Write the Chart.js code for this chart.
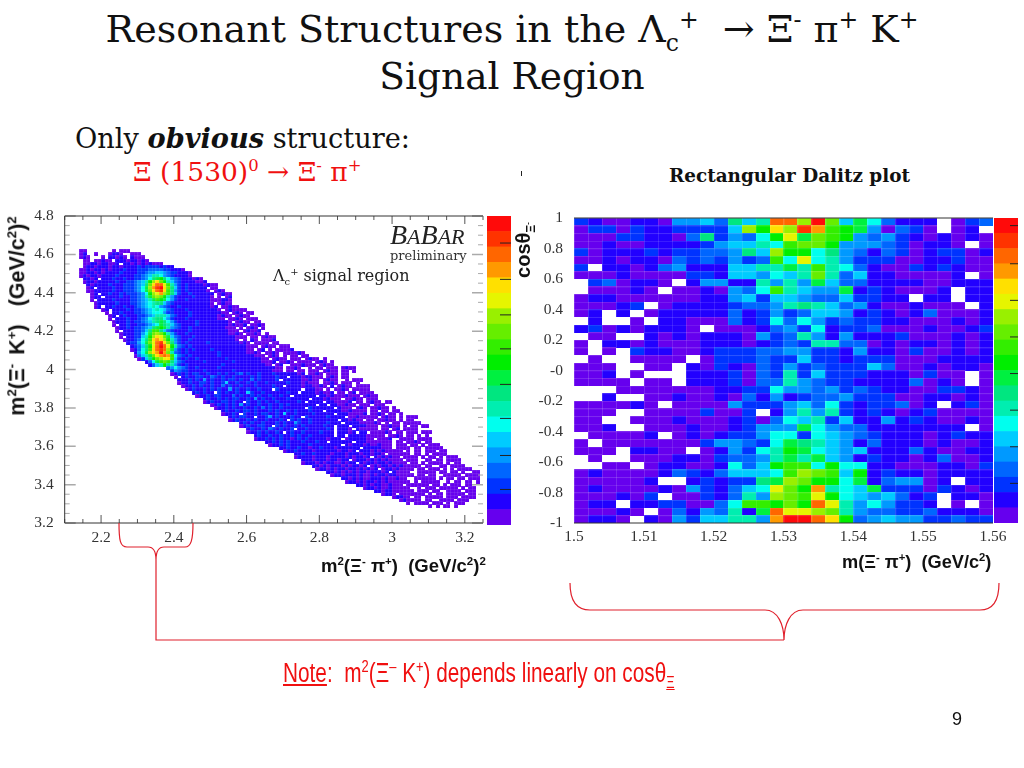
<!DOCTYPE html>
<html>
<head>
<meta charset="utf-8">
<title>Resonant Structures</title>
<script src="https://cdn.jsdelivr.net/npm/chart.js@4"></script>
<style>
html, body { margin: 0; padding: 0; background: #fff; }
body { width: 1024px; height: 768px; position: relative; overflow: hidden; }
canvas { position: absolute; }
.t { position: absolute; white-space: nowrap; line-height: 1; }
.t sup, .t sub { font-size: 62%; line-height: 0; }
.serif { font-family: "DejaVu Serif", serif; }
.sans { font-family: "Liberation Sans", sans-serif; font-weight: bold; color: #111; }
svg { position: absolute; left: 0; top: 0; }
</style>
</head>
<body>
<div class="t serif" style="left:0;width:1024px;text-align:center;top:10px;font-size:38px;color:#111">Resonant Structures in the Λ<sub>c</sub><sup>+</sup>&nbsp; → Ξ<sup>-</sup> π<sup>+</sup> K<sup>+</sup></div>
<div class="t serif" style="left:0;width:1024px;text-align:center;top:58px;font-size:37.5px;color:#111">Signal Region</div>
<div class="t serif" style="left:75px;top:125px;font-size:27.2px;color:#111">Only <b><i>obvious</i></b> structure:</div>
<div class="t serif" style="left:133px;top:159px;font-size:26.5px;color:#f01010">Ξ (1530)<sup>0</sup> → Ξ<sup>-</sup> π<sup>+</sup></div>
<div class="t serif" style="left:669px;top:167px;font-size:18.4px;font-weight:bold;color:#111">Rectangular Dalitz plot</div>
<div class="t" style="left:521px;top:171px;width:1px;height:5px;background:#222"></div>

<canvas id="chartLeft" style="left:0;top:200px"></canvas>
<canvas id="barLeft" style="left:487px;top:216px"></canvas>
<canvas id="chartRight" style="left:530px;top:200px"></canvas>
<canvas id="barRight" style="left:994px;top:218px"></canvas>

<div class="t" style="left:390px;top:219px;font:italic 28px 'Liberation Serif',serif;color:#222">B<span style="font-size:22px">A</span>B<span style="font-size:22px">AR</span></div>
<div class="t" style="left:390px;top:248px;font:13px 'DejaVu Serif',serif;color:#333">preliminary</div>
<div class="t" style="left:273px;top:266px;font:16px 'DejaVu Serif',serif;color:#222">Λ<sub>c</sub><sup>+</sup> signal region</div>

<div class="t sans" style="left:18px;top:316px;font-size:21.5px;word-spacing:3px;transform:translate(-50%,-50%) rotate(-90deg)">m<sup>2</sup>(Ξ<sup>-</sup> K<sup>+</sup>)&nbsp; (GeV/c<sup>2</sup>)<sup>2</sup></div>
<div class="t sans" style="left:321px;top:557px;font-size:18.5px">m<sup>2</sup>(Ξ<sup>-</sup> π<sup>+</sup>)&nbsp; (GeV/c<sup>2</sup>)<sup>2</sup></div>
<div class="t sans" style="left:523px;top:250px;font-size:20px;transform:translate(-50%,-50%) rotate(-90deg)">cosθ<sub>Ξ<sup>-</sup></sub></div>
<div class="t sans" style="left:842px;top:553px;font-size:18.2px">m(Ξ<sup>-</sup> π<sup>+</sup>)&nbsp; (GeV/c<sup>2</sup>)</div>

<svg width="1024" height="768" fill="none" stroke="#e0202c" stroke-width="1.2">
<path d="M119,523 C119,540 120,547 127,547 L148,547 C153,547 156,551 156,560 C156,551 159,547 164,547 L185,547 C191,547 193,540 193,523"/>
<path d="M156,560 L156,640 L784,640"/>
<path d="M570,583 C570,600 576,610 590,610 L765,610 C778,610 784,625 784,640 C784,625 790,610 803,610 L980,610 C994,610 999,600 999,583"/>
</svg>
<div class="t" style="left:283px;top:658px;font:27px 'Liberation Sans',sans-serif;color:#f01010;transform:scaleX(.77);transform-origin:0 0"><u>Note</u>:&nbsp; m<sup>2</sup>(Ξ<sup>–</sup> K<sup>+</sup>) depends linearly on cosθ<sub><u>Ξ</u></sub></div>
<div class="t" style="left:952px;top:709px;font:18px 'Liberation Sans',sans-serif;color:#111">9</div>

<script>
// Colour levels of the z scale, bottom to top
const levelColors = ["#6600ee", "#2200ff", "#0033ff", "#0066ff", "#0099ff", "#00ccff", "#00ffee", "#00eeb0", "#00e680", "#00f040",
    "#00ee00", "#33ee00", "#66ee00", "#99f000", "#e6f500", "#ffe000", "#ff9900", "#ff6600", "#ff3300", "#ff0a0a"];
const levelChars = "0123456789abcdefghij";

// Left plot: m2(Xi- K+) vs m2(Xi- pi+)
const leftXRange = [2.1, 3.25], leftXBin = 0.01;
const leftYRange = [3.2, 4.8], leftYBin = 0.016;
const leftXTicks = [2.2, 2.4, 2.6, 2.8, 3, 3.2];
const leftYTicks = [3.2, 3.4, 3.6, 3.8, 4, 4.2, 4.4, 4.6, 4.8];

// rows 11 to 50, all starting at column 3, "." is an empty bin
const leftRowsTop = [
    ".00.......0.000",
    ".01..0...0110..000",
    ".010...0.11010.1000",
    "..00.00100.111011010.",
    "..0011011001.11010101000",
    "..0110111011011112122221211",
    ".00101101011121112223333221110.",
    ".0011010111121111223445543221110",
    ".0101101111211112234577643211110",
    "..1101.1112112112234689a86432111010",
    "..011011111211223457adfca75321111001",
    "...10111121112223458cfhheb7421211110100",
    "...01.11112112223469dgijfc8521211111.00",
    "...00111112112223469cfhifb84212111110.010",
    "....01.1121121222346adegdb852112111111.0100",
    "....011.1111211223479cdca7421111211110.0.01",
    "....0.1111211112234579ba9642112111111000110.",
    ".....011111211122345678853211111111110.0100",
    ".....01.1121121123456764321121111111101.00100",
    ".......01.111121223456765321112111111110.010000",
    "........0.11211122345666422111121111111100.010.00",
    ".........01.1211122345777532111211111110100.0100",
    ".........0.111211234678864211121111111100.0010.000",
    "..........011121223457898642111112111111110.0100.00",
    "..........0.11211223456987532111121111111101001.0010",
    "...........011212234589a97432112111111111000.0.010.0",
    "...........0.11122358bb8532111121111111111000.01001.",
    "............011122469cdca742112111111111110010.0010.0",
    "............0.112257adfec9532111211111111111000.00.0100",
    ".............0112368bfgfda7421121111111111110.0.10.0001",
    "..............122469cehifc8421211111211111111010.0000.00",
    "...............12358aehjhea73212111111111111111000.0100.000",
    "...............01368bfhihd94212121111211111111100.01.0.00001",
    "................1469dfgjgc7321211111111211111110010.0010.000010.",
    "................03579cfghgb6321211111112111111111000.010.0.00.00.",
    ".................0258acdefb52121121111111211111111100.0100.000.0100.0",
    "...................1369bcb85321111121111111211111110001.0010.0000.010.0",
    "....................1357a87421211111111121111111111100.01..0001000.0100.",
    ".........................34643211211111211111111111111100.0010..0.00.000.0100",
    "..........................2432211112111111121111111111000.00.00.000.0100.00.0"
];
const leftTopFirstRow = 11, leftTopFirstCol = 3;

// rows 51 to 94, each with its own first column
const leftStarts = [29, 30, 30, 31, 31, 33, 34, 36, 37, 38, 39, 41, 42, 43, 44, 45, 47, 48, 49, 50, 51, 52, 54, 56, 58, 60, 62, 63, 64, 65, 67, 69, 71, 73, 75, 77, 79, 82, 84, 87, 90, 92, 94, 100];
const leftRowsBottom = [
    "0121212211211212112312112111211111101.0010.000.00",
    "0.12112211321211211112121111211.111011000.010.00.",
    ".1112121412112122121131211112.1111100100.0100..0.000",
    "011211221211251121121211211111211101000.0010.000.0",
    ".0112121121131211211121111211.11110110010.1.0100.0000",
    "012112121211412112112111.2111111.11100.0.0010.00000.",
    ".121211.2121121152112111111211.111101001.00.01.0000",
    "01121221113121121211211211.111111.11010001000.0100.",
    ".12112121221121412112111211111.11101000.00100.000",
    "01211221211.2112121121111121.1111.1100001.00.0100.00",
    ".01212121412112112112121111111.11.1100100.000.000",
    "0112121121121312112111111.2111111.1000.010.00100.0",
    ".1211212212111212112121112111.11110010000.00.00.00",
    "01121.2112122112151121111211111.11100001.0010.00.0.",
    ".1212211.112412111211.21111121111.00100000.0100.0.000",
    "0121121211211121.2121121111111.110100.00.00100.0.00",
    ".1212112111212114211211112111.1111000010.0.00.00000",
    "012112211.2121121211111211.111.1111000.00100.0.00.00",
    ".1211213212112.1121111121.1110.100000.00.01.0000",
    "0112121121.1211211112111.11101.11.000010.00.000.000",
    ".1211211211212112111111.11.1111100000.0010.00.0.0",
    "011212121101212111110111.01111100.0001..0000.0000",
    ".11212121112111211.111111.1110000000.00.0010.00",
    "01121211111211111111.1011101001000.000.00.0.000",
    ".1121121101121110111111.11111000.0000.00.00000.",
    "01121111011111101101.111010100000.0.00.000.00",
    ".1121121111011101110110110.000000.00.0.0000",
    "011110111011110101101.1010100.0000.0.00.0.000",
    ".1110111011011.01110101010000.000..00.00.0000",
    "011101011001011.1011011010000.00.0.0000.0.00",
    ".110101110101101.01011010100000.00..00.0000",
    "01101011011010101.011010000.00.000.0.0.0000",
    ".11010101011011101.10000..00000.00.00.0..00",
    "01101110100101101100000.00.00..00000.0000",
    ".110101001110100100..000000.0.00.00.000",
    "011010110101000000.0.00000..0.00.00.0",
    ".1101011001000.000000.00.0.000.00",
    "0110100100000..0.000.00000.0.00",
    ".11011000000.000.00..0000.000",
    "0110.0000000.0.00.00000.00.",
    "01100.00.00000.000.0000",
    "010000.00..0000.000",
    "0.0000.000.0.000",
    "0.0.00.0"
];
const leftBottomFirstRow = 51;

// Right plot: cos(theta) vs m(Xi- pi+), 30 columns and 40 rows from the top
const rightXRange = [1.5, 1.56], rightXBin = 0.002;
const rightYRange = [-1, 1], rightYBin = 0.05;
const rightXTicks = [1.5, 1.51, 1.52, 1.53, 1.54, 1.55, 1.56];
const rightYTicks = [1, 0.8, 0.6, 0.4, 0.2, 0, -0.2, -0.4, -0.6, -0.8, -1];
const rightYLabels = ["1", "0.8", "0.6", "0.4", "0.2", "-0", "-0.2", "-0.4", "-0.6", "-0.8", "-1"];
const rightRows = [
    "21001104453857hhdjc5963111.023",
    "022021122225dafdigba940320.01.",
    "00022110382436ae9cba4342101010",
    "001001111245576bcca444320110.0",
    "20111212233485daa6843132012201",
    "00101103232423b6e6742220011200",
    "2.110134111557797b763100212100",
    "00010000221554657c7351100001.0",
    ".230110.1441174749533111100111",
    ".00010.0010436b754491210001.11",
    "011000000114525543352211.11.11",
    "00012.0111123347875341001000.1",
    "01.1.0111113124235541210130001",
    ".1..0.110003126364232211000101",
    "120101110.00013426122300010012",
    ".00..1010111042374141112000101",
    "0.1101000111012327733010110101",
    "0.0.21100122233442214110200101",
    ".0..0000.022232252212220001111",
    "000..00.1021032423222530010110",
    "001.0...11120327252221110200.0",
    "0000.00.11120337432211113010.0",
    "...000000011226443423211002210",
    "..1..0010010314123342220011010",
    "000010.0000422245362122301.120",
    "000..00002002.1474721210120000",
    "00..00010001203657251141210010",
    "001..00010012444964331111111.0",
    ".00001.01012246626543211101211",
    "0.0000000244326987541311101001",
    "000.1100.014267a96545111310011",
    ".0..00011023347979541211013001",
    "..00.011001635abb6a66110001102",
    "010000132135556bdcb5a121101111",
    "000001..1212289dcaa69134401.11",
    "01000010421356ecag765922202101",
    "000102.0021374dcbea6545312.110",
    "011.11220036bbacahe7464221.0.0",
    "00010.03143719heedc74332231110",
    "0110.104255774gjjhfa3454422322"
];

// Tick positions on the colour bars, in level units
const barLeftTicks = [18.25, 15.9, 13.6, 11.4, 9.1, 6.9, 4.5, 2.3];
const barRightTicks = [19.5, 17.0, 14.6, 12.2, 9.8, 7.4, 5.0, 2.6];

function cellsFromRow(text, row, firstCol, xMin, xBin, yMax, yBin, out) {
    for (let i = 0; i < text.length; i++) {
        const lvl = levelChars.indexOf(text[i]);
        if (lvl < 0) continue;
        out.push({ x: xMin + (firstCol + i + 0.5) * xBin, y: yMax - (row + 0.5) * yBin, v: lvl });
    }
}

const leftCells = [];
leftRowsTop.forEach((t, i) => cellsFromRow(t, leftTopFirstRow + i, leftTopFirstCol, leftXRange[0], leftXBin, leftYRange[1], leftYBin, leftCells));
leftRowsBottom.forEach((t, i) => cellsFromRow(t, leftBottomFirstRow + i, leftStarts[i], leftXRange[0], leftXBin, leftYRange[1], leftYBin, leftCells));

const rightCells = [];
rightRows.forEach((t, i) => cellsFromRow(t, i, 0, rightXRange[0], rightXBin, rightYRange[1], rightYBin, rightCells));

// One small canvas per level, used as the point style so cells stay on the scales
function cellSprites(w, h, edge) {
    return levelColors.map(col => {
        const c = document.createElement("canvas");
        c.width = Math.ceil(w);
        c.height = Math.ceil(h);
        const g = c.getContext("2d");
        g.fillStyle = col;
        g.fillRect(0, 0, c.width, c.height);
        g.fillStyle = "rgba(255,255,255," + edge + ")";
        g.fillRect(0, 0, c.width, 1);
        g.fillRect(0, 0, 1, c.height);
        return c;
    });
}

function spriteStyle(xBin, yBin, edge) {
    let sprites = null;
    return ctx => {
        if (!ctx.raw) return "rect";
        const sx = ctx.chart.scales.x, sy = ctx.chart.scales.y;
        const w = sx.width * xBin / (sx.max - sx.min), h = sy.height * yBin / (sy.max - sy.min);
        if (!(w >= 1 && h >= 1)) return "rect";
        if (!sprites) sprites = cellSprites(w, h, edge);
        return sprites[ctx.raw.v];
    };
}

// Inward ticks and the frame, drawn from the scales
const frameTicks = {
    id: "frameTicks",
    afterDatasetsDraw(chart, args, o) {
        const { ctx, chartArea: a, scales: { x, y } } = chart;
        ctx.save();
        ctx.lineWidth = 1;
        if (o.ticks) {
            ctx.strokeStyle = "#555";
            for (let v = x.min; v <= x.max + 1e-6; v += o.xMinor) {
                const px = x.getPixelForValue(v);
                const major = Math.abs(v * 5 - Math.round(v * 5)) < 1e-6;
                const len = major ? 8 : 4;
                ctx.beginPath();
                ctx.moveTo(px, a.bottom); ctx.lineTo(px, a.bottom - len);
                ctx.moveTo(px, a.top); ctx.lineTo(px, a.top + len);
                ctx.stroke();
            }
            ctx.strokeStyle = "#aaa";
            for (let v = y.min; v <= y.max + 1e-6; v += o.yMinor) {
                const py = y.getPixelForValue(v);
                const major = Math.abs(v * 5 - Math.round(v * 5)) < 1e-6;
                const len = major ? 11 : 5;
                ctx.lineWidth = major ? 1.5 : 1;
                ctx.beginPath();
                ctx.moveTo(a.left, py); ctx.lineTo(a.left + len, py);
                ctx.moveTo(a.right, py); ctx.lineTo(a.right - len, py);
                ctx.stroke();
            }
        }
        ctx.lineWidth = 1;
        ctx.strokeStyle = "#333";
        ctx.beginPath();
        ctx.moveTo(a.left, a.bottom); ctx.lineTo(a.right, a.bottom);
        ctx.moveTo(a.left, a.top); ctx.lineTo(a.right, a.top);
        if (o.leftLine) { ctx.moveTo(a.left, a.top); ctx.lineTo(a.left, a.bottom); }
        ctx.stroke();
        ctx.restore();
    }
};

function heatChart(id, w, h, cfg) {
    const el = document.getElementById(id);
    el.width = w; el.height = h;
    el.style.width = w + "px"; el.style.height = h + "px";
    return new Chart(el, {
        type: "scatter",
        plugins: [frameTicks],
        data: {
            datasets: [{
                data: cfg.cells,
                pointRadius: 3,
                pointHoverRadius: 3,
                pointStyle: spriteStyle(cfg.xBin, cfg.yBin, cfg.edge)
            }]
        },
        options: {
            responsive: false,
            animation: false,
            events: [],
            layout: { padding: cfg.padding },
            plugins: {
                legend: { display: false },
                tooltip: { enabled: false },
                frameTicks: cfg.frame
            },
            scales: {
                x: {
                    type: "linear",
                    min: cfg.xRange[0], max: cfg.xRange[1],
                    afterBuildTicks: s => { s.ticks = cfg.xTicks.map(v => ({ value: v })); },
                    afterFit: s => { s.height = 37; },
                    grid: { display: false },
                    border: { display: false },
                    ticks: {
                        autoSkip: false, maxRotation: 0, padding: cfg.xPad,
                        color: "#333",
                        font: { family: "Liberation Serif", size: cfg.fontSize },
                        callback: v => String(v)
                    }
                },
                y: {
                    type: "linear",
                    min: cfg.yRange[0], max: cfg.yRange[1],
                    afterBuildTicks: s => { s.ticks = cfg.yTicks.map(v => ({ value: v })); },
                    afterFit: s => { s.width = cfg.yWidth; },
                    grid: { display: false },
                    border: { display: false },
                    ticks: {
                        autoSkip: false, padding: 3,
                        color: "#333",
                        font: { family: "Liberation Serif", size: cfg.fontSize },
                        callback: cfg.yLabel
                    }
                }
            }
        }
    });
}

heatChart("chartLeft", 487, 360, {
    cells: leftCells, xBin: leftXBin, yBin: leftYBin, edge: 0.1,
    xRange: leftXRange, yRange: leftYRange, xTicks: leftXTicks, yTicks: leftYTicks,
    yWidth: 64.7, fontSize: 15.5, xPad: -2,
    padding: { left: 0, top: 16, right: 2, bottom: 0 },
    frame: { ticks: true, xMinor: 0.05, yMinor: 0.05, leftLine: true },
    yLabel: v => String(v)
});

heatChart("chartRight", 480, 360, {
    cells: rightCells, xBin: rightXBin, yBin: rightYBin, edge: 0.16,
    xRange: rightXRange, yRange: rightYRange, xTicks: rightXTicks, yTicks: rightYTicks,
    yWidth: 44, fontSize: 15.5, xPad: -3,
    padding: { left: 0, top: 18, right: 17, bottom: 0 },
    frame: { ticks: false, leftLine: false },
    yLabel: v => rightYLabels[rightYTicks.indexOf(v)]
});

// Colour bars as stacked one-bar charts
function colourBar(id, w, h, tickLevels, tickLen) {
    const el = document.getElementById(id);
    el.width = w; el.height = h;
    el.style.width = w + "px"; el.style.height = h + "px";
    new Chart(el, {
        type: "bar",
        plugins: [{
            id: "barTicks",
            afterDatasetsDraw(chart) {
                const { ctx, chartArea: a, scales: { y } } = chart;
                ctx.save();
                ctx.strokeStyle = "#222";
                ctx.beginPath();
                tickLevels.forEach(l => {
                    const py = y.getPixelForValue(l);
                    ctx.moveTo(a.right, py);
                    ctx.lineTo(a.right - tickLen, py);
                });
                ctx.stroke();
                ctx.restore();
            }
        }],
        data: {
            labels: [""],
            datasets: levelColors.map(c => ({ data: [1], backgroundColor: c, barPercentage: 1, categoryPercentage: 1 }))
        },
        options: {
            responsive: false,
            animation: false,
            events: [],
            plugins: { legend: { display: false }, tooltip: { enabled: false } },
            scales: {
                x: { stacked: true, display: false },
                y: { stacked: true, display: false, min: 0, max: levelColors.length }
            }
        }
    });
}

colourBar("barLeft", 24, 309, barLeftTicks, 11);
colourBar("barRight", 24, 305, barRightTicks, 8);
</script>
</body>
</html>
